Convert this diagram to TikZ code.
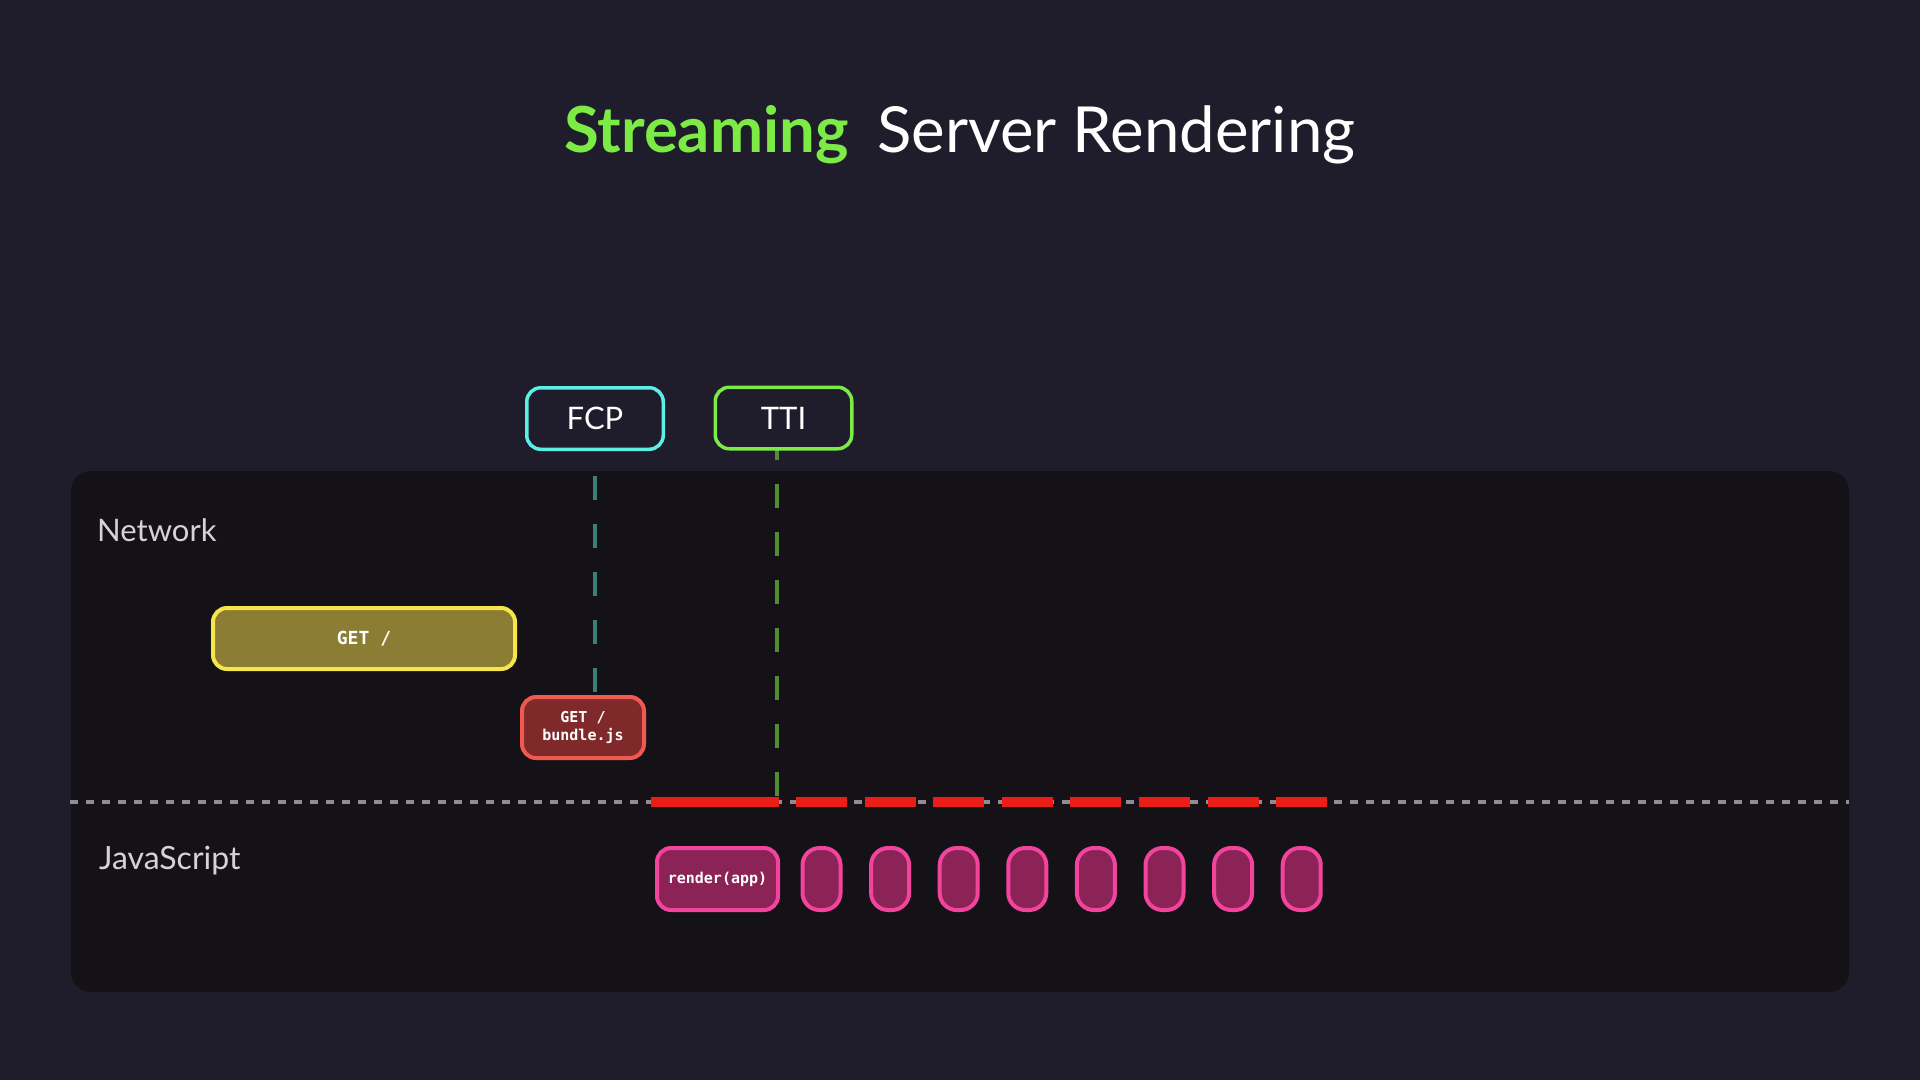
\documentclass[tikz,border=0pt]{standalone}
\usepackage{fontspec}
\setmainfont{Lato}
\newfontfamily\monof{DejaVu Sans Mono}
\definecolor{bg}{HTML}{1F1C2B}
\definecolor{panel}{HTML}{141117}
\definecolor{cyanb}{HTML}{5CEFE6}
\definecolor{greenb}{HTML}{7DEB45}
\definecolor{fcpline}{HTML}{3B7E7A}
\definecolor{ttiline}{HTML}{4F8C36}
\definecolor{yelb}{HTML}{F7E64B}
\definecolor{yelf}{HTML}{8B7D33}
\definecolor{bunb}{HTML}{F05A4E}
\definecolor{bunf}{HTML}{80292B}
\definecolor{redc}{HTML}{EC1C16}
\definecolor{grayd}{HTML}{8F8B93}
\definecolor{pinkb}{HTML}{F2449C}
\definecolor{pinkf}{HTML}{8B2357}
\definecolor{labc}{HTML}{D7D2D9}
\begin{document}
\begin{tikzpicture}[x=1pt,y=-1pt,
  marker/.style={draw, line width=3.5pt, rounded corners=14pt, fill=bg, text=white,
    font=\fontsize{31}{36}\selectfont, minimum width=136.5pt, minimum height=61.5pt, inner sep=0pt},
  netbox/.style={line width=4pt, rounded corners=14pt, inner sep=0pt, text=white, align=center,
    minimum height=61pt},
  jsbox/.style={draw=pinkb, fill=pinkf, line width=4pt, minimum height=62pt, inner sep=0pt,
    rounded corners=14pt, text=white},
  pillbox/.style={jsbox, minimum width=38pt, rounded corners=17pt},
  lanelabel/.style={anchor=base west, inner sep=0pt, text=labc, font=\fontsize{32}{38}\selectfont},
  reddash/.style={draw=redc, line width=10pt},
  markline/.style={line width=4pt, dash pattern=on 24pt off 24pt}
]
\useasboundingbox (0,0) rectangle (1920,1080);
\fill[bg] (0,0) rectangle (1920,1080);

% title
\node[anchor=base east, inner sep=0pt, text=greenb, font=\fontsize{63.5}{72}\selectfont\bfseries] (t1) at (849,152) {Streaming};
\node[anchor=base west, inner sep=0pt, text=white, font=\fontsize{63.5}{72}\selectfont] (t2) at (877,152) {Server Rendering};

% panel
\fill[panel, rounded corners=20pt] (71,471) rectangle (1849,992);

\node[lanelabel, font=\fontsize{31}{38}\selectfont] (netlab) at (97,541) {Network};
\node[lanelabel] (jslab) at (99,869) {JavaScript};

% separator
\coordinate (sepL) at (70,802);
\coordinate (sepR) at (1849,802);
\draw[grayd, line width=4pt, dash pattern=on 8pt off 8pt] (sepL) -- (sepR);

% red dashes
\draw[reddash] (651,802) -- (779,802);
\foreach \i in {0,...,7} {
  \draw[reddash] ({796+68.6*\i},802) -- ({847+68.6*\i},802);
}

% marker lines
\coordinate (fcpT) at (595,476);
\coordinate (fcpB) at (595,692);
\coordinate (ttiT) at (777,436);
\coordinate (ttiB) at (777,796);
\draw[markline, fcpline] (fcpT) -- (fcpB);
\draw[markline, ttiline] (ttiT) -- (ttiB);

% markers
\node[marker, draw=cyanb] (fcp) at (595,418.5) {FCP};
\node[marker, draw=greenb] (tti) at (783.5,418) {TTI};

% network boxes
\node[netbox, draw=yelb, fill=yelf, minimum width=302pt, font=\monof\bfseries\fontsize{18}{20}\selectfont] (get) at (364,638.5) {GET /};
\node[netbox, draw=bunb, fill=bunf, minimum width=122pt, font=\monof\bfseries\fontsize{15}{18}\selectfont] (bundle) at (583,727.5) {GET /\\bundle.js};

% js boxes
\node[jsbox, minimum width=121pt, font=\monof\bfseries\fontsize{15}{18}\selectfont] (render) at (717.5,879) {render(app)};
\foreach \i in {0,...,7} {
  \node[pillbox] (p\i) at ({821.5+68.6*\i},879) {};
}
\end{tikzpicture}
\end{document}
